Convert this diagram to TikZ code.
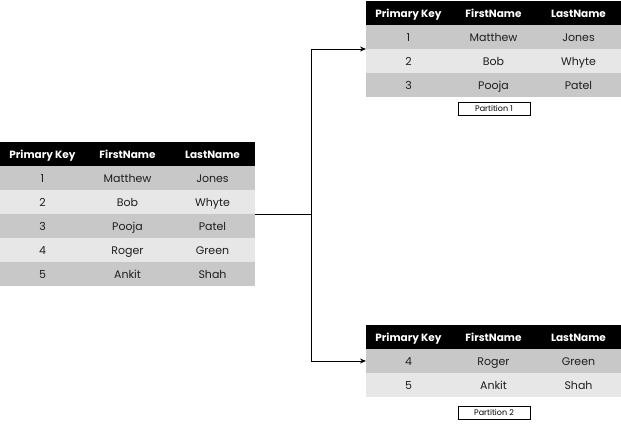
\documentclass[tikz,border=0pt]{standalone}
\usepackage{fontspec}
\setmainfont{Poppins}
\usetikzlibrary{fit,arrows.meta}
\definecolor{rowA}{RGB}{200,200,200}
\definecolor{rowB}{RGB}{231,231,231}
\definecolor{txt}{RGB}{30,30,30}
\tikzset{
 cell/.style={minimum width=85pt, minimum height=24pt, inner sep=0pt, outer sep=0pt, anchor=north west, text=txt, text height=10.5pt, text depth=1pt, font=\fontsize{11}{13}\selectfont},
 hcell/.style={cell, fill=black, text=white, font=\fontsize{10.5}{12}\selectfont\bfseries},
 rA/.style={cell, fill=rowA}, rB/.style={cell, fill=rowB},
 tbl/.style={inner sep=0pt, outer sep=0pt},
 part/.style={draw, line width=0.8pt, minimum width=72pt, minimum height=13pt, inner sep=0pt, font=\fontsize{8}{9}\selectfont},
 conn/.style={line width=0.9pt},
 arr/.style={conn, -{Stealth[length=6pt,width=5pt]}}
}
\begin{document}
\begin{tikzpicture}[x=1pt,y=-1pt]
\useasboundingbox (0,0) rectangle (621,424);
% left table
\node[hcell] (L-0-1) at (0,142) {Primary Key};
\node[hcell] (L-0-2) at (85,142) {FirstName};
\node[hcell] (L-0-3) at (170,142) {LastName};
\foreach \i/\a/\b/\c/\s in {1/1/Matthew/Jones/rA,2/2/Bob/Whyte/rB,3/3/Pooja/Patel/rA,4/4/Roger/Green/rB,5/5/Ankit/Shah/rA}{
 \node[\s] (L-\i-1) at (0,{166+24*(\i-1)}) {\a};
 \node[\s] (L-\i-2) at (85,{166+24*(\i-1)}) {\b};
 \node[\s] (L-\i-3) at (170,{166+24*(\i-1)}) {\c};
}
\node[tbl, fit=(L-0-1)(L-5-3)] (L) {};
% top table
\node[hcell] (T-0-1) at (366,1) {Primary Key};
\node[hcell] (T-0-2) at (451,1) {FirstName};
\node[hcell] (T-0-3) at (536,1) {LastName};
\foreach \i/\a/\b/\c/\s in {1/1/Matthew/Jones/rA,2/2/Bob/Whyte/rB,3/3/Pooja/Patel/rA}{
 \node[\s] (T-\i-1) at (366,{25+24*(\i-1)}) {\a};
 \node[\s] (T-\i-2) at (451,{25+24*(\i-1)}) {\b};
 \node[\s] (T-\i-3) at (536,{25+24*(\i-1)}) {\c};
}
\node[tbl, fit=(T-0-1)(T-3-3)] (T) {};
\node[part] (P1) at (494,108.5) {Partition 1};
% bottom table
\node[hcell] (B-0-1) at (366,325) {Primary Key};
\node[hcell] (B-0-2) at (451,325) {FirstName};
\node[hcell] (B-0-3) at (536,325) {LastName};
\foreach \i/\a/\b/\c/\s in {1/4/Roger/Green/rA,2/5/Ankit/Shah/rB}{
 \node[\s] (B-\i-1) at (366,{349+24*(\i-1)}) {\a};
 \node[\s] (B-\i-2) at (451,{349+24*(\i-1)}) {\b};
 \node[\s] (B-\i-3) at (536,{349+24*(\i-1)}) {\c};
}
\node[tbl, fit=(B-0-1)(B-2-3)] (B) {};
\node[part] (P2) at (494,412.5) {Partition 2};
% connectors
\draw[conn] (L.east) -- ++(56,0) coordinate (J);
\draw[arr] (J) |- (T.west);
\draw[arr] (J) |- (B-1-1.west);
\end{tikzpicture}
\end{document}
